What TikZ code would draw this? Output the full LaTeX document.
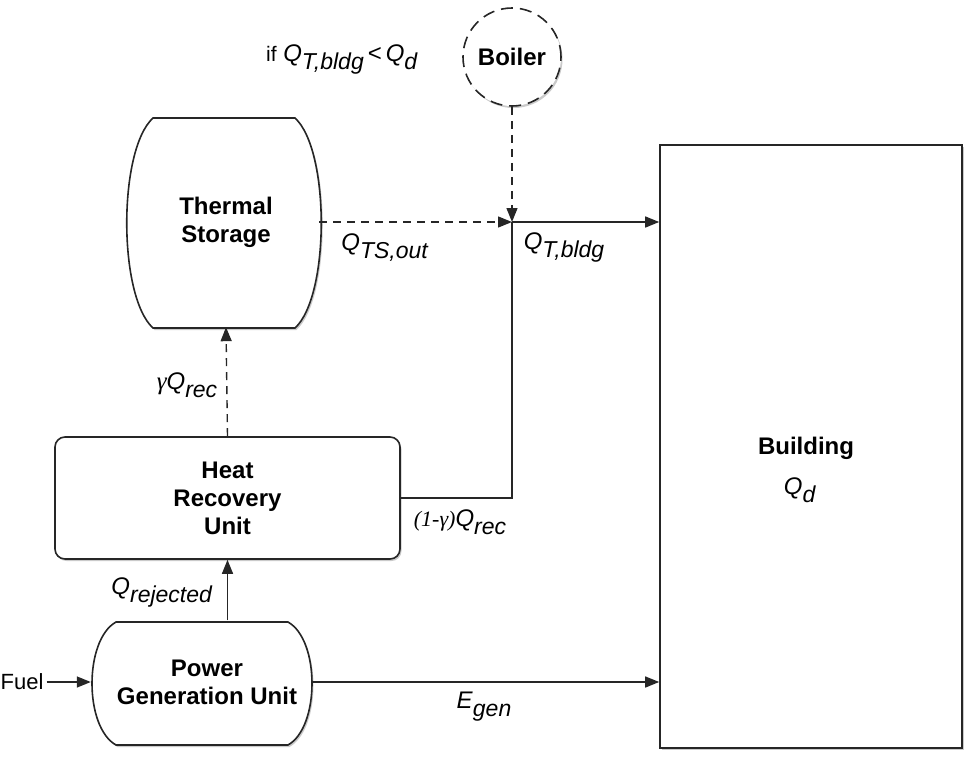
\documentclass[tikz,border=0pt]{standalone}
\usepackage{fontspec}
\setmainfont{Liberation Sans}
\newfontfamily\serifit{Liberation Serif}
\usetikzlibrary{arrows.meta,shadows}
\newcommand\Qsb[2]{\textit{#1}\raisebox{-8pt}{\fontsize{23}{23}\selectfont\textit{#2}}}
\begin{document}
\begin{tikzpicture}[x=1pt,y=-1pt,
  box/.style={draw=black!85, line width=1.6pt, fill=white},
  shd/.style={drop shadow={shadow xshift=1.5pt,shadow yshift=-2pt,opacity=0.35,fill=black!60}},
  lbl/.style={font=\fontsize{24}{24}\selectfont, inner sep=0pt},
  ttl/.style={font=\fontsize{24}{28}\selectfont\bfseries, align=center, inner sep=0pt},
  arr/.style={line width=1.4pt, draw=black!85, -{Triangle[length=14pt,width=11pt]}},
  ln/.style={line width=1.4pt, draw=black!85},
  dsh/.style={dash pattern=on 8pt off 6pt}
]
\useasboundingbox (0,0) rectangle (967,758);

% Thermal storage outline
\draw[box, shd] (153,118) -- (295,118) .. controls (330,150) and (330,296) .. (295,328)
  -- (153,328) .. controls (118,296) and (118,150) .. (153,118) -- cycle;
\node[ttl, minimum width=186pt, minimum height=210pt] (ts) at (226,222) {Thermal\\Storage};

% Power generation unit outline
\draw[box, shd] (116,622) -- (288,622) .. controls (320,640) and (320,727) .. (288,745)
  -- (116,745) .. controls (84,727) and (84,640) .. (116,622) -- cycle;
\node[ttl, minimum width=222pt, minimum height=123pt] (pgu) at (202,682) {};
\node[ttl] (pgutxt) at (207,682) {Power\\Generation Unit};

% Heat recovery unit
\node[box, shd, rounded corners=10pt, minimum width=345pt, minimum height=122pt, ttl] (hru) at (227.5,498) {Heat\\Recovery\\Unit};

% Building
\node[box, shd, minimum width=302pt, minimum height=603pt] (bldg) at (811,446.5) {};
\node[ttl] (btxt) at (806,448) {Building};
\node[lbl] (qd) at (800,490) {\Qsb{Q}{d}};

% Boiler
\node[circle, draw=black!85, line width=1.6pt, dash pattern=on 12pt off 7pt, minimum size=98pt, fill=white, shd, ttl] (boiler) at (512,57) {Boiler};

% Fuel
\node[lbl, font=\fontsize{22}{22}\selectfont] (fuel) at (22,682) {Fuel};

% junction
\coordinate (j) at (512,222);

% connectors
\draw[arr, dsh] (boiler.south) -- (j);
\draw[arr, dsh] (ts.east) -- (j);
\draw[arr] (j) -- (bldg.west |- j);
\draw[ln] (j) |- (hru.east);
\draw[arr, dsh] (hru.north) -- (ts.south);
\draw[arr] (pgu.north -| hru.south) -- (hru.south);
\draw[arr] (fuel.east) ++(3,0) -- (pgu.west);
\draw[arr] (pgu.east) -- (bldg.west |- pgu.east);

% labels
\node[lbl] (lif) at (342,60) {{\fontsize{21}{21}\selectfont if} \Qsb{Q}{T,bldg}\,<\,\Qsb{Q}{d}};
\node[lbl] (lts) at (385,248) {\Qsb{Q}{TS,out}};
\node[lbl] (ltb) at (564,248) {\Qsb{Q}{T,bldg}};
\node[lbl] (lg) at (187,385) {{\serifit\itshape\fontsize{25}{25}\selectfont γ}\Qsb{Q}{rec}};
\node[lbl] (lg1) at (460,522) {{\serifit\itshape\fontsize{22}{22}\selectfont (1-γ)}\Qsb{Q}{rec}};
\node[lbl] (lrej) at (162,592) {\Qsb{Q}{rejected}};
\node[lbl] (legen) at (484,707) {\Qsb{E}{gen}};
\end{tikzpicture}
\end{document}
